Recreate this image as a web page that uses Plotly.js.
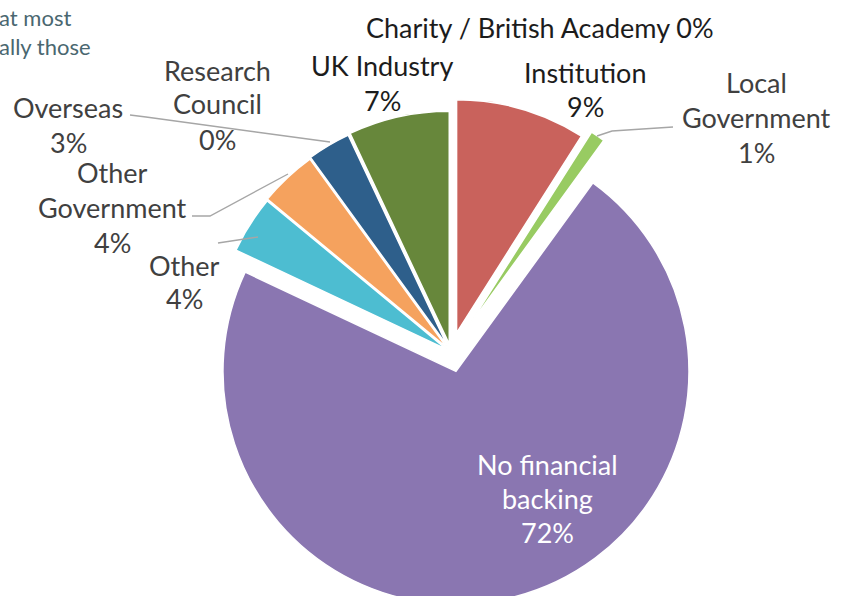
<!DOCTYPE html>
<html>
<head>
<meta charset="utf-8">
<script src="https://cdn.plot.ly/plotly-3.0.1.min.js"></script>
<style>
html,body{margin:0;padding:0;overflow:hidden;background:#fff;}
#chart{width:849px;height:640px;}
</style>
</head>
<body>
<div id="chart"></div>
<script>
// ---- data ----
const categories = ["Charity / British Academy", "Institution", "Local Government", "No financial backing", "Other", "Other Government", "Overseas", "Research Council", "UK Industry"];
const percentValues = [0, 9, 1, 72, 4, 4, 3, 0, 7];
const labelLines = [
  ["Charity / British Academy 0%"],
  ["Institution", "9%"],
  ["Local", "Government", "1%"],
  ["No financial", "backing", "72%"],
  ["Other", "4%"],
  ["Other", "Government", "4%"],
  ["Overseas", "3%"],
  ["Research", "Council", "0%"],
  ["UK Industry", "7%"]
];
const pageTextLines = ["at most", "ally those"];

// ---- styles ----
const sliceColors = ["#4F81BD", "#C9625C", "#98CB62", "#8A76B1", "#4DBDD1", "#F5A25E", "#2E5F8B", "#772C2A", "#67873B"];
const pullPx = [8, 20, 28, 20, 5, 6, 7, 8, 8];

const W = 849, H = 640;
const R = 233, CX = 451, CY = 352;
const maxPull = Math.max(...pullPx) / R;
const half = R * (1 + maxPull);
const px = x => x / W;
const py = y => (H - y) / H;

// label placement (pixel centres of each line)
const labelPos = [
  {x: 540, y: [28], c: "#1c1c1c"},
  {x: 585, y: [72, 106], c: "#1c1c1c"},
  {x: 756, y: [82, 117, 152], c: "#404040"},
  {x: 547, y: [464, 498, 532], c: "#ffffff"},
  {x: 184, y: [265, 298], c: "#404040"},
  {x: 112, y: [172, 208, 243], c: "#404040"},
  {x: 68,  y: [107, 142], c: "#404040"},
  {x: 217, y: [70, 104, 139], c: "#404040"},
  {x: 382, y: [65, 100], c: "#1c1c1c"}
];

const annotations = [];
labelLines.forEach((lines, i) => {
  lines.forEach((t, j) => {
    annotations.push({
      text: t, xref: "paper", yref: "paper",
      x: px(labelPos[i].x), y: py(labelPos[i].y[j]),
      xanchor: "center", yanchor: "middle", showarrow: false,
      font: {family: "Lato, 'Open Sans', sans-serif", size: 27, color: labelPos[i].c}
    });
  });
});
pageTextLines.forEach((t, j) => {
  annotations.push({
    text: t, xref: "paper", yref: "paper",
    x: px(-3), y: py([18, 46][j]), xanchor: "left", yanchor: "middle", showarrow: false,
    font: {family: "Lato, sans-serif", size: 22, color: "#4a6770"}
  });
});

// leader lines
const leaders = [
  [[130, 115], [146, 117], [330, 142]],
  [[192, 216], [210, 216], [288, 174]],
  [[218, 243], [258, 237]],
  [[597, 136], [612, 131], [673, 127]]
];
const shapes = leaders.map(pts => ({
  type: "path", xref: "paper", yref: "paper",
  path: pts.map((p, k) => (k ? "L" : "M") + px(p[0]) + "," + py(p[1])).join(" "),
  line: {color: "#a6a6a6", width: 1.4}
}));

const trace = {
  type: "pie",
  labels: categories,
  values: percentValues,
  sort: false,
  direction: "clockwise",
  rotation: 0,
  pull: pullPx.map(p => p / R),
  marker: {colors: sliceColors, line: {color: "#ffffff", width: 1.5}},
  textinfo: "none",
  hoverinfo: "label+percent",
  showlegend: false,
  domain: {x: [px(CX - half), px(CX + half)], y: [py(CY + half), py(CY - half)]}
};

Plotly.newPlot("chart", [trace], {
  width: W, height: H,
  margin: {l: 0, r: 0, t: 0, b: 0},
  paper_bgcolor: "#ffffff",
  showlegend: false,
  annotations: annotations,
  shapes: shapes
}, {staticPlot: true});
</script>
</body>
</html>
